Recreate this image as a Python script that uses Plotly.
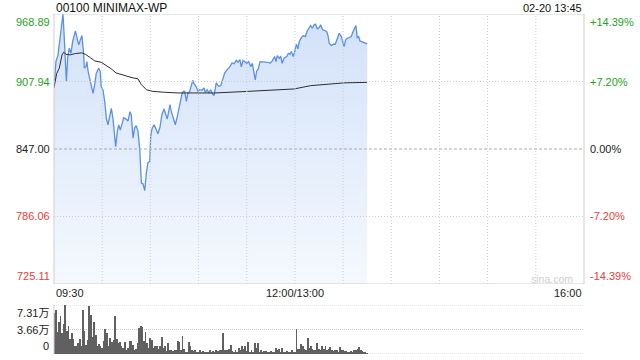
import plotly.graph_objects as go

# ---------------- data ----------------
title_text = "00100 MINIMAX-WP"
stamp_text = "02-20 13:45"
prev_close = 847.00
y_min, y_max = 725.11, 968.89

# minutes since 09:30 (lunch break collapsed: 150 = 12:00/13:00)
price_minute = [0, 1.2, 2.5, 3.3, 4.2, 5.0, 5.6, 6.2, 7.0, 7.7,
                8.5, 9.5, 10.6, 11.6, 13.3, 14.3, 15.4, 16.4, 17.4, 18.5,
                18.9, 19.9, 20.5, 21.2, 22.2, 23.2, 24.3, 25.3, 26.3, 27.8,
                28.8, 29.4, 30.5, 31.6, 32.6, 33.6, 34.7, 35.7, 36.7, 37.8,
                38.4, 39.4, 40.3, 41.3, 42.3, 43.4, 44.8, 46.1, 47.3, 48.1,
                49.2, 50.2, 51.2, 52.3, 53.4, 54.4, 55.4, 56.5, 57.5, 58.5,
                59.6, 60.2, 61.0, 62.3, 63.7, 64.7, 66.0, 67.2, 68.5, 69.5,
                70.5, 72.2, 73.0, 74.3, 75.5, 76.8, 77.6, 78.6, 79.7, 80.5,
                81.4, 82.4, 83.4, 84.5, 85.5, 86.4, 87.2, 88.4, 89.7, 90.7,
                92.1, 93.4, 94.2, 95.4, 96.5, 97.6, 98.6, 99.6, 100.4, 101.0,
                102.5, 103.8, 105.0, 106.3, 107.9, 109.4, 110.8, 112.1, 113.5, 114.6,
                115.8, 116.6, 117.7, 118.3, 120.0, 121.2, 122.5, 123.5, 124.5, 125.3,
                126.2, 127.2, 128.3, 129.9, 131.8, 133.2, 134.5, 135.9, 137.4, 138.2,
                139.0, 140.3, 141.1, 142.1, 143.2, 144.9, 145.9, 146.9, 147.7, 149.0,
                149.9, 150.9, 151.9, 152.7, 154.0, 155.2, 156.5, 157.7, 159.0, 159.8,
                160.8, 161.9, 162.9, 163.9, 165.2, 166.0, 167.3, 168.5, 169.8, 170.6,
                171.4, 172.6, 173.9, 175.1, 176.4, 177.6, 178.9, 179.7, 180.6, 181.6,
                182.6, 183.8, 185.1, 186.0, 187.2, 188.0, 188.8, 189.7, 190.5, 191.7,
                193.0, 194.2, 195.0]
price = [902.4, 926.0, 932.0, 941.0, 953.0, 965.0, 968.89, 953.0, 926.0, 908.0,
         929.0, 938.0, 933.5, 944.0, 953.7, 948.5, 941.0, 945.5, 949.4, 932.0,
         920.0, 921.4, 926.0, 917.5, 910.8, 904.8, 897.2, 904.8, 915.3, 920.0,
         916.9, 903.3, 900.3, 889.7, 874.6, 868.7, 877.7, 883.7, 874.6, 859.6,
         849.0, 862.6, 868.7, 864.1, 870.1, 875.3, 874.0, 872.3, 880.7, 877.7,
         856.9, 865.9, 868.0, 862.9, 846.3, 816.2, 815.6, 809.5, 825.2, 834.8,
         835.7, 858.4, 865.0, 868.9, 864.4, 860.8, 866.8, 878.0, 883.1, 878.0,
         874.0, 887.0, 881.0, 875.0, 868.9, 876.4, 882.5, 891.5, 897.0, 899.0,
         899.0, 890.0, 897.6, 899.0, 903.6, 909.0, 906.0, 903.6, 899.0, 900.6,
         900.0, 902.1, 898.2, 900.6, 897.6, 900.6, 897.0, 895.2, 901.2, 906.7,
         903.6, 904.2, 909.6, 915.7, 918.7, 921.1, 924.7, 924.1, 927.1, 925.3,
         927.7, 921.1, 927.1, 926.6, 924.4, 925.9, 921.4, 924.4, 915.3, 909.4,
         917.5, 919.3, 925.9, 925.9, 925.9, 925.3, 924.4, 926.6, 930.5, 925.9,
         931.3, 928.9, 931.0, 924.4, 928.9, 930.5, 933.4, 932.5, 935.0, 930.5,
         935.0, 941.6, 937.4, 944.0, 947.6, 949.4, 948.5, 953.7, 956.7, 958.5,
         956.0, 959.1, 959.7, 955.5, 956.7, 959.1, 954.6, 953.7, 953.1, 949.4,
         942.5, 940.4, 941.6, 941.6, 947.0, 951.5, 948.5, 944.0, 939.5, 945.5,
         947.0, 947.6, 948.5, 952.4, 956.0, 958.5, 947.6, 948.5, 944.6, 944.0,
         943.4, 942.5, 942.0]

avg_minute = [0, 1.7, 3.3, 5.0, 6.0, 7.5, 10.1, 13.3, 17.4, 19.5,
              22.6, 25.3, 29.4, 31.9, 35.7, 38.6, 42.3, 46.1, 48.6, 52.3,
              54.4, 57.5, 61.6, 68.9, 77.2, 87.6, 100.1, 120.3, 149.4, 159.8,
              180.6, 195.0]
avg_price = [902.4, 915.3, 920.0, 932.0, 934.4, 932.5, 932.0, 933.2, 933.8, 932.5,
             929.5, 926.6, 925.3, 922.9, 919.3, 915.7, 913.9, 912.6, 911.4, 910.3,
             905.1, 900.6, 899.0, 898.2, 897.6, 897.6, 897.6, 899.0, 901.2, 904.2,
             906.7, 907.2]

# per-minute volume, in 万 shares
vol_wan = [6.13, 6.52, 3.34, 4.81, 5.64, 3.09, 4.46, 7.31, 3.48, 4.17,
           2.21, 3.09, 2.21, 1.23, 1.23, 1.62, 2.21, 1.23, 6.62, 3.48,
           1.37, 2.11, 7.11, 5.79,
           2.60, 4.81, 2.85, 1.23, 1.52, 1.23, 0.88, 2.01, 3.68, 3.19,
           1.23, 2.35, 1.86, 2.11, 5.64, 2.21, 1.62, 1.72, 1.13, 0.88,
           1.86, 0.64, 0.88, 2.01, 2.01, 1.37, 0.54, 0.74, 1.62, 3.83,
           4.17, 3.97, 2.01, 3.34, 1.62, 0.88, 2.35, 2.11, 0.88, 1.13,
           1.23, 0.74, 1.13, 2.50, 0.88, 1.13, 0.39, 1.62, 0.64, 0.54,
           0.39, 0.64, 0.64, 2.01, 1.72, 0.64, 2.70,
           0.74, 0.15, 0.25, 1.86, 1.13, 0.54, 0.39, 0.54, 0.25, 0.34,
           0.54, 0.25, 0.39, 0.15, 0.34, 0.25, 0.64, 0.25, 0.39, 0.15,
           0.54, 0.39, 0.64, 0.64, 3.19, 0.54, 0.54, 0.64, 0.74, 1.37,
           0.39, 0.25, 0.54, 0.25, 0.88, 0.64, 1.23, 0.74, 1.13, 0.39,
           1.72, 0.25, 0.64, 0.15, 1.62, 0.88, 1.62, 0.25, 0.54, 0.15,
           0.39, 0.39, 0.25, 0.15, 0.39, 0.25, 0.15, 0.88, 0.54, 0.74,
           0.25, 0.88, 0.25, 0.15, 0.39, 0.25, 0.15, 0.54, 0.25, 0.15,
           3.68, 0.74, 0.74, 1.52, 1.13, 0.74, 0.64, 2.35, 0.88, 1.13,
           0.74, 0.64, 0.64, 1.62, 0.74, 0.54, 1.23, 0.74, 1.13, 0.54,
           0.74, 1.03, 0.54, 0.39, 0.54, 0.64, 0.15, 1.03, 0.64, 0.54,
           0.39, 0.39, 0.25, 0.25, 0.39, 0.25, 0.54, 0.54, 0.74, 1.03,
           0.54, 0.39, 0.34, 0.34, 0.05]
vol_minute = list(range(len(vol_wan)))
vol_max = 7.31

price_ticks = [968.89, 907.94, 847.00, 786.06, 725.11]
price_tick_text = ["968.89", "907.94", "847.00", "786.06", "725.11"]
pct_tick_text = ["+14.39%", "+7.20%", "0.00%", "-7.20%", "-14.39%"]
vol_ticks = [7.31, 3.655, 0]
vol_tick_text = ["7.31万", "3.66万", "0"]
time_ticks = [0, 150, 330]
time_tick_text = ["09:30", "12:00/13:00", "16:00"]
grid_minutes = [30, 60, 90, 120, 150, 180, 210, 240, 270, 300]
session_len = 330

# ---------------- styles ----------------
FONT = "Liberation Sans, Arial, Noto Sans CJK SC, sans-serif"
UP, DOWN, FLAT = "#1ea31e", "#ee3b3b", "#222222"
GRID = "#cccccc"

fig = go.Figure()
fig.add_trace(go.Scatter(x=[price_minute[0], price_minute[-1]], y=[y_min, y_min],
                         mode="lines", line=dict(width=0), hoverinfo="skip",
                         showlegend=False))
fig.add_trace(go.Scatter(x=price_minute, y=price, mode="lines",
                         line=dict(color="#5a90ea", width=1.3),
                         fill="tonexty",
                         fillgradient=dict(type="vertical",
                                           colorscale=[[0, "#f5f9fe"], [1, "#d2e1f9"]],
                                           start=y_min, stop=y_max),
                         showlegend=False))
fig.add_trace(go.Scatter(x=avg_minute, y=avg_price, mode="lines",
                         line=dict(color="#2d2d2d", width=1), showlegend=False))
fig.add_trace(go.Bar(x=vol_minute, y=vol_wan, marker_color="#606060",
                     marker_line_width=0, width=0.5,
                     xaxis="x2", yaxis="y2", showlegend=False))

main_bottom = (354 - 284) / 340
vol_top = (354 - 305) / 340
axis_common = dict(showgrid=False, showticklabels=False, zeroline=False,
                   showline=False, ticks="")
fig.update_layout(
    width=640, height=360,
    margin=dict(l=54, r=56, t=14, b=6),
    paper_bgcolor="white", plot_bgcolor="white",
    showlegend=False, bargap=0,
    xaxis=dict(domain=[0, 1], range=[0, session_len], anchor="y", **axis_common),
    yaxis=dict(domain=[main_bottom, 1], range=[y_min, y_max], anchor="x", **axis_common),
    xaxis2=dict(domain=[0, 1], range=[0, session_len], anchor="y2", **axis_common),
    yaxis2=dict(domain=[0, vol_top], range=[0, vol_max], anchor="x2", **axis_common),
    font=dict(family=FONT, size=11, color="#222"),
)

shapes = []
for v in (price_ticks[1], price_ticks[3]):
    shapes.append(dict(type="line", xref="paper", yref="y", x0=0, x1=1, y0=v, y1=v,
                       line=dict(color=GRID, width=1, dash="1px,2px"), layer="above"))
shapes.append(dict(type="line", xref="paper", yref="y", x0=0, x1=1,
                   y0=prev_close, y1=prev_close,
                   line=dict(color="#aaaaaa", width=1, dash="3px,2px"), layer="above"))
for m in grid_minutes:
    shapes.append(dict(type="line", xref="x", yref="y", x0=m, x1=m, y0=y_min, y1=y_max,
                       line=dict(color=GRID, width=1, dash="1px,2px"), layer="above"))
shapes.append(dict(type="rect", xref="paper", yref="y", x0=0, x1=1, y0=y_min, y1=y_max,
                   line=dict(color="#cfcfcf", width=1), layer="above"))
for v in vol_ticks:
    shapes.append(dict(type="line", xref="paper", yref="y2", x0=0, x1=1, y0=v, y1=v,
                       line=dict(color=GRID, width=1, dash="1px,1px"), layer="below"))
shapes.append(dict(type="line", xref="paper", yref="y2", x0=0, x1=0, y0=0, y1=vol_max,
                   line=dict(color="#cfcfcf", width=1), layer="above"))
fig.update_layout(shapes=shapes)

ann = []
n = len(price_ticks)
for i, (v, t, p) in enumerate(zip(price_ticks, price_tick_text, pct_tick_text)):
    col = UP if v > prev_close else (DOWN if v < prev_close else FLAT)
    ya = "top" if i == 0 else ("bottom" if i == n - 1 else "middle")
    ann.append(dict(x=0, xref="paper", y=v, yref="y", text=t, showarrow=False,
                    xanchor="right", yanchor=ya, xshift=-2,
                    font=dict(color=col, size=11, family=FONT)))
    ann.append(dict(x=1, xref="paper", y=v, yref="y", text=p, showarrow=False,
                    xanchor="left", yanchor=ya, xshift=4,
                    font=dict(color=col, size=11, family=FONT)))
for i, (v, t) in enumerate(zip(vol_ticks, vol_tick_text)):
    ya = "top" if i == 0 else ("bottom" if i == len(vol_ticks) - 1 else "middle")
    ann.append(dict(x=0, xref="paper", y=v, yref="y2", text=t, showarrow=False,
                    xanchor="right", yanchor=ya, xshift=-3,
                    font=dict(color="#222", size=11, family=FONT)))
label_y = (354 - 293) / 340
for m, t in zip(time_ticks, time_tick_text):
    xa = "left" if m == time_ticks[0] else ("right" if m == time_ticks[-1] else "center")
    ann.append(dict(x=m, xref="x", y=label_y, yref="paper", text=t, showarrow=False,
                    xanchor=xa, yanchor="middle",
                    font=dict(color="#222", size=11, family=FONT)))
top_y = (354 - 7.5) / 340
ann.append(dict(x=0, xref="paper", y=top_y, yref="paper", text=title_text,
                showarrow=False, xanchor="left", yanchor="middle",
                font=dict(color="#111", size=12, family=FONT)))
ann.append(dict(x=1, xref="paper", y=top_y, yref="paper", text=stamp_text,
                showarrow=False, xanchor="right", yanchor="middle",
                font=dict(color="#111", size=11, family=FONT)))
ann.append(dict(x=0.94, xref="paper", y=(354 - 278.5) / 340, yref="paper",
                text="sina.com", showarrow=False, xanchor="center", yanchor="middle",
                font=dict(color="#cfcfcf", size=10.5, family=FONT)))
fig.update_layout(annotations=ann)

fig.write_html("out.html")
